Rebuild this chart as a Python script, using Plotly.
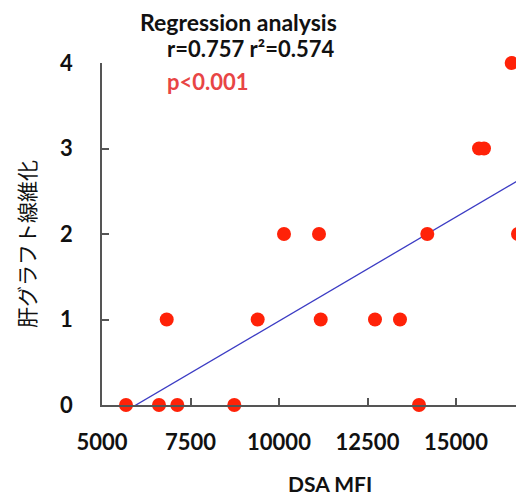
import numpy as np
import plotly.graph_objects as go

# data
dsa_mfi = [5678, 6610, 7127, 8737, 13955,
           6828, 9398, 11178, 12712, 13418,
           10141, 11130, 14189, 16751,
           15650, 15791,
           16573]
fibrosis = [0, 0, 0, 0, 0,
            1, 1, 1, 1, 1,
            2, 2, 2, 2,
            3, 3,
            4]
x_ticks = [5000, 7500, 10000, 12500, 15000]
y_ticks = [0, 1, 2, 3, 4]

OFF = 8  # page body margin offset
W, H = 524, 496
L = 102 - OFF
T = 63 - OFF
R = 0
B = H - (405 - OFF)
pw, ph = W - L - R, H - T - B

xa = np.array(dsa_mfi, float)
ya = np.array(fibrosis, float)
slope, intercept = np.polyfit(xa, ya, 1)
fit_x = [xa.min(), xa.max()]
fit_y = [slope * v + intercept for v in fit_x]

fig = go.Figure()
fig.add_trace(go.Scatter(x=fit_x, y=fit_y, mode="lines",
                         line=dict(color="#3c3cc4", width=1.3),
                         hoverinfo="skip", showlegend=False))
fig.add_trace(go.Scatter(x=dsa_mfi, y=fibrosis, mode="markers",
                         marker=dict(color="#ff2208", size=14, line=dict(width=0)),
                         cliponaxis=False, showlegend=False))

tickfont = dict(family="Lato, sans-serif", size=22, color="#111111", weight="bold")
fig.update_xaxes(range=[5000, 5000 + pw / 88.5 * 2500], tickvals=x_ticks,
                 ticktext=[str(v) for v in x_ticks],
                 showline=True, linecolor="#555555", linewidth=1.5,
                 ticks="inside", ticklen=7, tickwidth=1.5, tickcolor="#555555",
                 tickfont=tickfont, ticklabelstandoff=17,
                 showgrid=False, zeroline=False)
fig.update_yaxes(range=[0, 4], tickvals=y_ticks,
                 showline=True, linecolor="#555555", linewidth=1.5,
                 ticks="inside", ticklen=7, tickwidth=1.5, tickcolor="#555555",
                 tickfont=tickfont, ticklabelstandoff=23,
                 showgrid=False, zeroline=False)

def px2x(px):
    return (px - OFF - L) / pw

def py2y(py):
    return (H - B - (py - OFF)) / ph

anns = [
    dict(text="Regression analysis", x=px2x(238), y=py2y(22), xanchor="center",
         font=dict(family="Lato, sans-serif", size=23, color="#111111", weight="bold")),
    dict(text="r=0.757 r²=0.574", x=px2x(165), y=py2y(48), xanchor="left",
         font=dict(family="Lato, sans-serif", size=22, color="#111111", weight="bold")),
    dict(text="p<0.001", x=px2x(165), y=py2y(81), xanchor="left",
         font=dict(family="Lato, sans-serif", size=22, color="#e84545", weight="bold")),
    dict(text="DSA MFI", x=px2x(330), y=py2y(484), xanchor="center",
         font=dict(family="Lato, sans-serif", size=21, color="#111111", weight="bold")),
    dict(text="肝グラフト線維化", x=px2x(26), y=py2y(244), xanchor="center", textangle=-90,
         font=dict(family="Noto Sans CJK JP", size=21, color="#111111")),
]
for a in anns:
    a.update(xref="paper", yref="paper", yanchor="middle", showarrow=False)
fig.update_layout(width=W, height=H, margin=dict(l=L, r=R, t=T, b=B),
                  plot_bgcolor="white", paper_bgcolor="white",
                  annotations=anns)
fig.write_html("out.html")
